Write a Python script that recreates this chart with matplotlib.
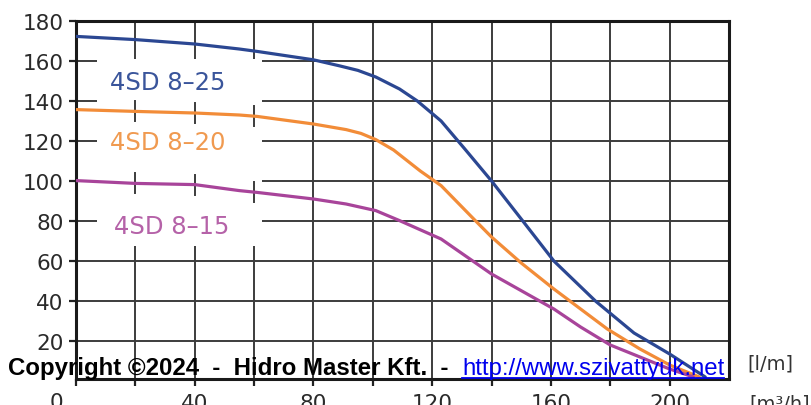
import numpy as np
import matplotlib.pyplot as plt
from matplotlib.patches import Rectangle
from matplotlib.lines import Line2D

# pump curves (flow l/m -> head m)
x_825 = [0, 20, 40, 55, 61, 80, 89, 95, 101, 109, 115, 123, 131, 140, 150, 161, 175, 188, 200, 212]
h_825 = [172.3, 170.7, 168.5, 166, 164.8, 160.6, 157.5, 155.3, 152, 146, 140, 130, 116, 100, 81, 60, 40, 24, 13.5, 2]

x_820 = [0, 20, 40, 55, 61, 80, 91, 96, 101, 107, 116, 123, 134, 140, 150, 161, 179, 190, 200, 210]
h_820 = [135.7, 134.8, 134, 133, 132.3, 128.5, 125.7, 123.8, 120.7, 115.5, 105, 97.7, 81, 72, 59, 46, 26, 16, 8, 2]

x_815 = [0, 20, 40, 55, 61, 80, 91, 101, 109, 123, 140, 161, 170, 180, 200, 208]
h_815 = [100.2, 98.8, 98.2, 95.2, 94.3, 91, 88.5, 85.2, 80.2, 71, 53.5, 36, 27, 18, 6, 2]

names = ['4SD 8\u201325', '4SD 8\u201320', '4SD 8\u201315']
line_colors = ['#2b4792', '#f28c38', '#a8449a']
text_colors = ['#3a559b', '#f09a50', '#b562a8']
label_pos = [(31, 149.5), (31, 119.5), (32.3, 77.5)]

y_ticks = [20, 40, 60, 80, 100, 120, 140, 160, 180]
x_ticks = [0, 20, 40, 60, 80, 100, 120, 140, 160, 180, 200]
x_labels = ['', '', '40', '', '80', '', '120', '', '160', '', '200']

W, H = 811, 406
grid_c = '#3c3c3c'
fig = plt.figure(figsize=(W / 100, H / 100), dpi=100)
ax = fig.add_axes([76 / W, 1 - 380 / H, (729 - 76) / W, (380 - 22) / H])

ax.set_xlim(0, 220)
ax.set_ylim(1, 180)
ax.set_yticks(y_ticks)
ax.set_xticks(x_ticks)
ax.set_xticklabels(x_labels)
ax.grid(True, color=grid_c, lw=1.4, zorder=1)
ax.set_axisbelow(True)
ax.tick_params(axis='both', direction='out', length=5, width=1.6, color='#222',
               labelsize=15.5, labelcolor='#2a2a2a', pad=4)
ax.tick_params(axis='x', pad=5)
for s in ax.spines.values():
    s.set_linewidth(2.2)
    s.set_color('#1a1a1a')

# "0" sits left of the axis in the original
ax.annotate('0', xy=(0, 0), xycoords=('data', 'axes fraction'), xytext=(-14, -9.5),
            textcoords='offset points', ha='center', va='top', fontsize=15.5, color='#2a2a2a')

# white area behind the curve names, grid only shows where the lower curves cross it
ax.add_patch(Rectangle((7, 67.5), 55.6, 93.5, facecolor='white', edgecolor='none', zorder=1.5))
for gx in [20, 40, 60]:
    for xs, hs in [(x_820, h_820), (x_815, h_815)]:
        yc = np.interp(gx, xs, hs)
        ax.plot([gx, gx], [yc - 5, yc + 5], color=grid_c, lw=1.4, zorder=1.6)

for xs, hs, c in [(x_825, h_825, line_colors[0]), (x_820, h_820, line_colors[1]),
                  (x_815, h_815, line_colors[2])]:
    ax.plot(xs, hs, color=c, lw=2.3, zorder=3, solid_capstyle='round', solid_joinstyle='round')

for name, c, (lx, ly) in zip(names, text_colors, label_pos):
    ax.text(lx, ly, name, color=c, fontsize=17.5, ha='center', va='center', zorder=4)

fig.text(770 / W, 1 - 364 / H, '[l/m]', fontsize=14, color='#333', ha='center', va='center')
fig.text(780 / W, 1 - 404 / H, '[m\u00b3/h]', fontsize=14, color='#333', ha='center', va='center')

# copyright line
base = 1 - 375 / H
fig.text(8 / W, base, 'Copyright \u00a92024  -  Hidro Master Kft.  -  ', fontsize=17.3,
         fontweight='bold', family='Liberation Sans', color='black', va='baseline', zorder=10)
link = fig.text(462 / W, base, 'http://www.szivattyuk.net', fontsize=17.3,
                family='Liberation Sans', color='#0000ee', va='baseline', zorder=10)
fig.canvas.draw()
bb = link.get_window_extent()
fig.add_artist(Line2D([bb.x0 / W, bb.x1 / W], [base - 3.5 / H, base - 3.5 / H],
                      transform=fig.transFigure, color='#0000ee', lw=1.3, zorder=10))

fig.savefig('out.png', dpi=100)
